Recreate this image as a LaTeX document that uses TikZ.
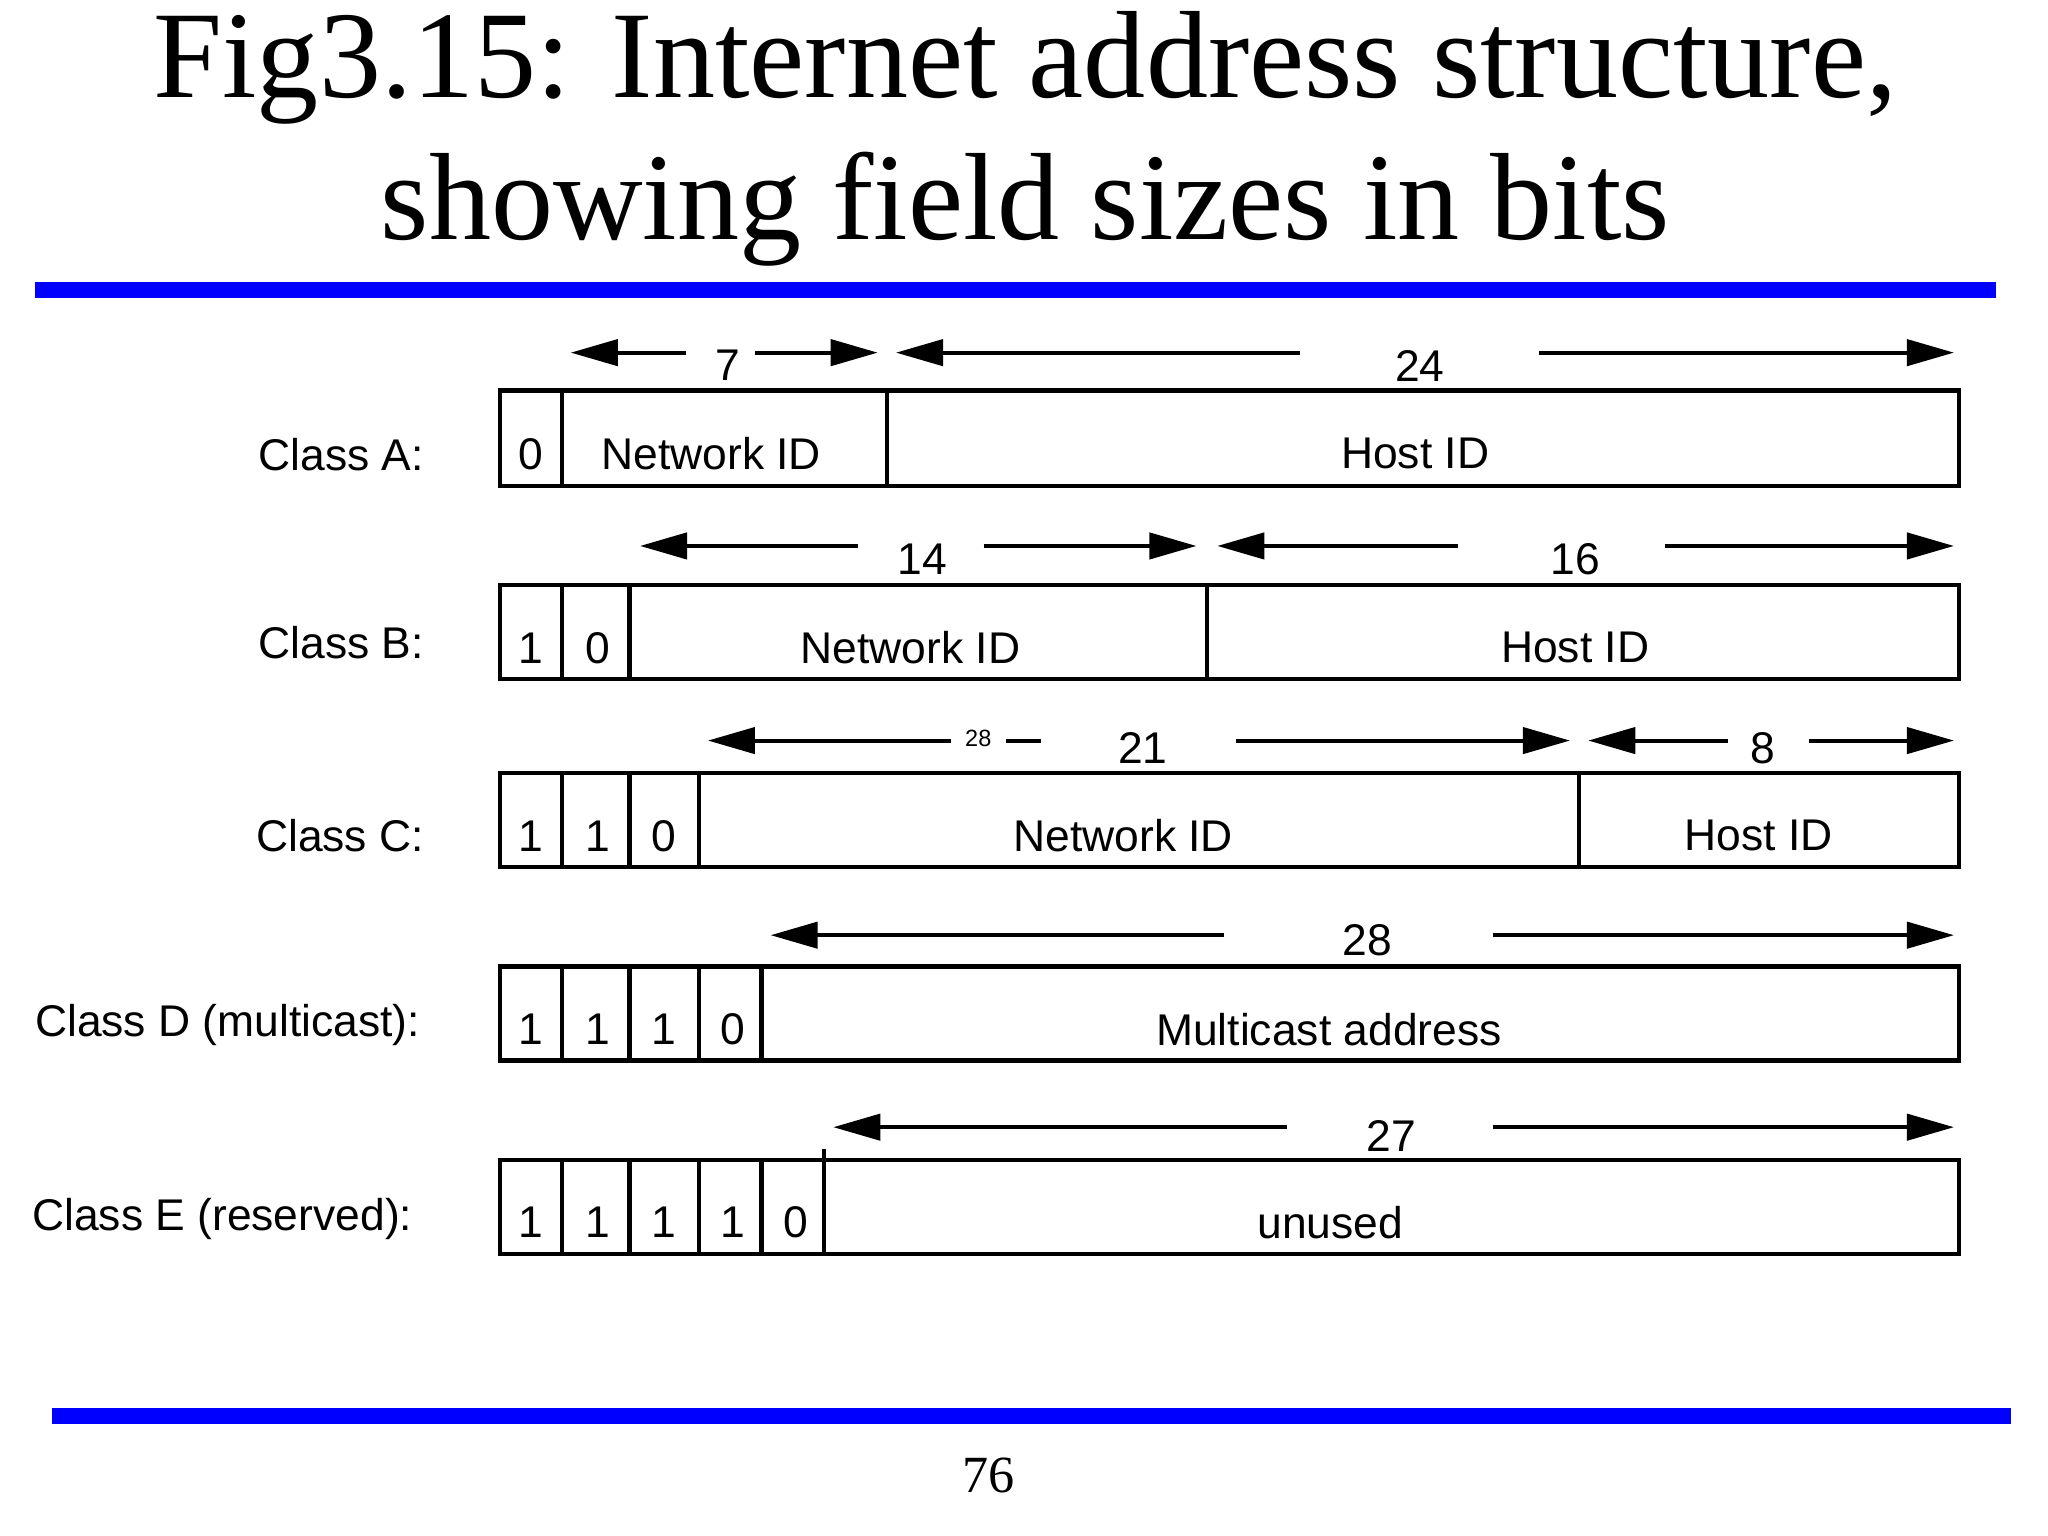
\documentclass[tikz,border=0pt]{standalone}
\usepackage{fontspec}
\setmainfont{Liberation Serif}
\newfontfamily\lsans{Liberation Sans}
\usetikzlibrary{arrows.meta}
\tikzset{
  cell/.style={draw, line width=1.6pt, inner sep=0pt},
  arr/.style={line width=1.5pt, -{Triangle[length=18pt,width=10pt]}},
  lbl/.style={font=\lsans\fontsize{17}{17}\selectfont, anchor=east, inner sep=0pt},
  num/.style={font=\lsans\fontsize{17}{17}\selectfont, inner sep=0pt},
  blue line/.style={draw=blue, line width=6pt}
}
\newcommand\cellbox[7]{\node[cell,minimum width={(#3-#2)*0.5pt}, minimum height={(#5-#4)*0.5pt}] (#1) at ({(#2+#3)/2},{(#4+#5)/2}) {};
  \node[num] (#1t) at ({(#2+#3)/2+#7},{(#4+#5)/2+12}) {#6};}
\newcommand\arr[4]{\coordinate (#1s) at (#2,#4); \coordinate (#1e) at (#3,#4); \draw[arr] (#1s) -- (#1e);}
\begin{document}
\begin{tikzpicture}[x=0.5pt,y=-0.5pt]
\useasboundingbox[fill=white] (0,0) rectangle (1568,1176);
\node[font=\fontsize{47.5}{47.5}\selectfont] (t1) at (785,52) {Fig3.15: Internet address structure,};
\node[font=\fontsize{47.5}{47.5}\selectfont] (t2) at (785,160) {showing field sizes in bits};
\coordinate (b1s) at (27,222); \coordinate (b1e) at (1528,222);
\draw[blue line] (b1s) -- (b1e);
\coordinate (b2s) at (40,1084); \coordinate (b2e) at (1540,1084);
\draw[blue line] (b2s) -- (b2e);
\node[font=\fontsize{20}{20}\selectfont] (pg) at (757,1130) {76};

% Class A
\node[lbl] (la) at (325,348) {Class A:};
\cellbox{a0}{383}{430}{299}{372}{0}{0}
\cellbox{a1}{430}{679}{299}{372}{Network ID}{-10}
\cellbox{a2}{679}{1500}{299}{372}{Host ID}{-6}
\arr{aa}{525}{437}{270} \node[num] (n7) at (557,280) {7}; \arr{ab}{578}{672}{270}
\arr{ac}{995}{686}{270} \node[num] (n24) at (1087,280) {24}; \arr{ad}{1178}{1496}{270}

% Class B
\node[lbl] (lb) at (325,492) {Class B:};
\cellbox{b0}{383}{430}{448}{520}{1}{0}
\cellbox{b1}{430}{482}{448}{520}{0}{2}
\cellbox{b2}{482}{924}{448}{520}{Network ID}{-6}
\cellbox{b3}{924}{1500}{448}{520}{Host ID}{-6}
\arr{ba}{657}{490}{418} \node[num] (n14) at (706,428) {14}; \arr{bb}{753}{916}{418}
\arr{bc}{1116}{932}{418} \node[num] (n16) at (1206,428) {16}; \arr{bd}{1275}{1496}{418}

% Class C
\node[lbl] (lc) at (325,640) {Class C:};
\cellbox{c0}{383}{430}{592}{664}{1}{0}
\cellbox{c1}{430}{482}{592}{664}{1}{2}
\cellbox{c2}{482}{535}{592}{664}{0}{0}
\cellbox{c3}{535}{1209}{592}{664}{Network ID}{-12}
\cellbox{c4}{1209}{1500}{592}{664}{Host ID}{-8}
\arr{ca}{728}{542}{567} \node[num,font=\lsans\fontsize{9}{9}\selectfont] (n28s) at (749,565) {28};
\coordinate (cxs) at (770,567); \coordinate (cxe) at (797,567); \draw[line width=1.5pt] (cxs) -- (cxe);
\node[num] (n21) at (875,573) {21}; \arr{cb}{946}{1202}{567}
\arr{cc}{1323}{1216}{567} \node[num] (n8) at (1350,573) {8}; \arr{cd}{1385}{1496}{567}

% Class D
\node[lbl] (ld) at (322,785) {Class D (multicast):};
\cellbox{d0}{383}{430}{740}{812}{1}{0}
\cellbox{d1}{430}{482}{740}{812}{1}{2}
\cellbox{d2}{482}{535}{740}{812}{1}{0}
\cellbox{d3}{535}{583}{740}{812}{0}{2}
\cellbox{d4}{583}{1500}{740}{812}{Multicast address}{-24}
\arr{da}{937}{590}{716} \node[num] (n28) at (1047,720) {28}; \arr{db}{1143}{1496}{716}

% Class E
\node[lbl] (le) at (316,933) {Class E (reserved):};
\cellbox{e0}{383}{430}{888}{960}{1}{0}
\cellbox{e1}{430}{482}{888}{960}{1}{2}
\cellbox{e2}{482}{535}{888}{960}{1}{0}
\cellbox{e3}{535}{583}{888}{960}{1}{2}
\cellbox{e4}{583}{631}{888}{960}{0}{2}
\cellbox{e5}{631}{1500}{888}{960}{unused}{-47}
\coordinate (et) at (631,880); \coordinate (eb) at (631,890); \draw[line width=1.6pt] (eb) -- (et);
\arr{ea}{985}{638}{863} \node[num] (n27) at (1065,870) {27}; \arr{eb}{1143}{1496}{863}
\end{tikzpicture}
\end{document}
